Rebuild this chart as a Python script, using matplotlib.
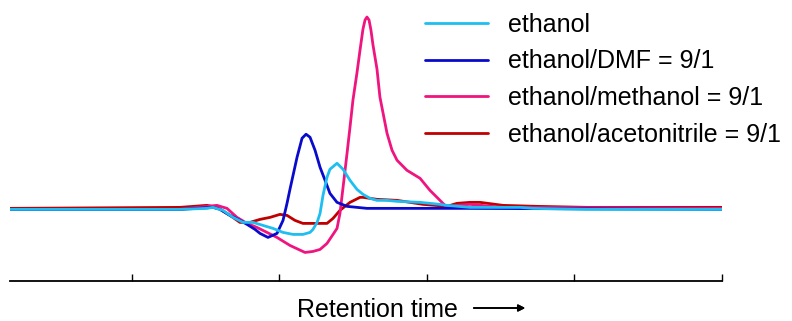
import numpy as np
import matplotlib.pyplot as plt

plt.rcParams['font.family'] = ['Liberation Sans', 'DejaVu Sans']

# retention time (arbitrary units), detector signal (arbitrary units)
t_eth = [0.173, 1.326, 1.508, 1.549, 1.617, 1.685, 1.753, 1.820, 1.888, 1.956, 2.024, 2.092,
         2.159, 2.207, 2.227, 2.255, 2.275, 2.295, 2.322, 2.342, 2.390, 2.431, 2.478, 2.525,
         2.566, 2.614, 2.661, 2.729, 2.797, 2.953, 3.088, 3.136, 3.292, 3.631, 3.719, 4.085, 5.0]
y_eth = [0, 0, 1, 2, -1, -8, -13, -13, -16, -19, -23, -25,
         -25, -23, -20, -13, -4, 14, 32, 40, 46, 40, 29, 20,
         15, 11, 9, 9, 8, 7, 5, 4, 2, 2, 1, 0, 0]

t_dmf = [0.173, 1.326, 1.549, 1.597, 1.664, 1.732, 1.780, 1.834, 1.868, 1.922, 1.983, 2.024,
         2.051, 2.071, 2.119, 2.153, 2.180, 2.207, 2.241, 2.275, 2.309, 2.342, 2.390, 2.458,
         2.593, 2.973, 3.271, 5.0]
y_dmf = [0, 0, 2, 0, -6, -11, -15, -20, -24, -28, -24, -11,
         6, 20, 52, 71, 75, 72, 59, 42, 29, 16, 7, 3,
         1, 1, 1, 0]

t_meoh = [0.173, 1.326, 1.508, 1.576, 1.644, 1.712, 1.780, 1.847, 1.915, 1.983, 2.071, 2.173,
          2.227, 2.275, 2.322, 2.363, 2.390, 2.410, 2.431, 2.458, 2.478, 2.498, 2.525, 2.546,
          2.566, 2.580, 2.593, 2.607, 2.620, 2.634, 2.661, 2.681, 2.729, 2.763, 2.797, 2.864,
          2.953, 3.020, 3.088, 3.136, 3.203, 3.292, 3.515, 5.0]
y_meoh = [0, 0, 3, 4, 1, -8, -14, -18, -23, -28, -36, -43,
          -42, -40, -34, -25, -19, -4, 22, 56, 82, 109, 136, 159,
          180, 189, 192, 189, 179, 164, 140, 112, 76, 59, 49, 39,
          31, 19, 9, 2, 4, 5, 2, 1]

t_acn = [0.173, 1.326, 1.508, 1.576, 1.664, 1.732, 1.800, 1.868, 1.936, 2.003, 2.051, 2.105,
         2.159, 2.227, 2.322, 2.363, 2.410, 2.478, 2.546, 2.566, 2.661, 2.797, 2.973, 3.136,
         3.203, 3.292, 3.360, 3.515, 3.746, 4.085, 5.0]
y_acn = [1, 2, 4, 2, -6, -13, -13, -10, -8, -5, -6, -11,
         -14, -14, -14, -9, -1, 7, 12, 12, 10, 9, 5, 3,
         6, 7, 7, 4, 3, 2, 2]

fig = plt.figure(figsize=(7.92, 3.21), dpi=100)
ax = fig.add_axes([10 / 792, 40.5 / 321, 712 / 792, 1 - 50.5 / 321])

lw = 2.0
kw = dict(lw=lw, solid_joinstyle='round', solid_capstyle='round')
l1, = ax.plot(t_acn, y_acn, color='#C00000', **kw)
l2, = ax.plot(t_meoh, y_meoh, color='#F0147F', **kw)
l3, = ax.plot(t_dmf, y_dmf, color='#0A0ACC', **kw)
l4, = ax.plot(t_eth, y_eth, color='#1EBEF0', **kw)

ax.set_xlim(0.173, 5.0)
ax.set_ylim(-71, 199)
for s in ['top', 'right', 'left']:
    ax.spines[s].set_visible(False)
ax.spines['bottom'].set_linewidth(1.3)
ax.set_yticks([])
ax.set_xticks([1, 2, 3, 4, 5])
ax.tick_params(axis='x', direction='in', length=5, width=1.0, labelbottom=False)

ax.legend([l4, l3, l2, l1],
          ['ethanol', 'ethanol/DMF = 9/1', 'ethanol/methanol = 9/1', 'ethanol/acetonitrile = 9/1'],
          loc='upper left', bbox_to_anchor=(425 / 792, 1 - 13 / 321),
          bbox_transform=fig.transFigure, frameon=False, fontsize=18,
          handlelength=2.5, handletextpad=0.8, labelspacing=0.5,
          borderpad=0, borderaxespad=0)

fig.text(377 / 792, 1 - 317 / 321, 'Retention time', fontsize=18,
         ha='center', va='baseline')
fig.add_artist(plt.annotate('', xy=(528 / 792, 1 - 308 / 321), xytext=(471 / 792, 1 - 308 / 321),
                            xycoords='figure fraction',
                            arrowprops=dict(arrowstyle='-|>', color='black', lw=1.2,
                                            mutation_scale=10)))

fig.savefig('out.png', dpi=100)
